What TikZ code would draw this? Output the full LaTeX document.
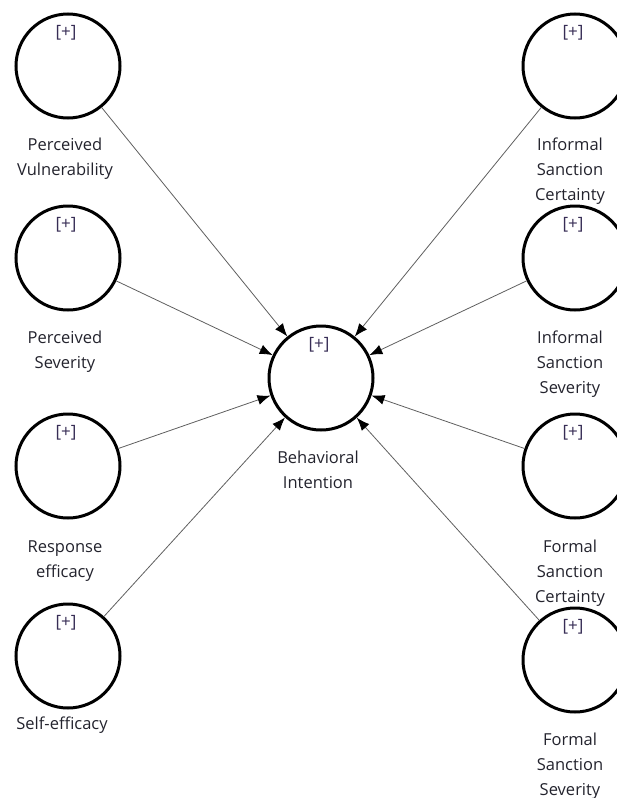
\documentclass[tikz,border=0pt]{standalone}
\usepackage{fontspec}
\setmainfont{Open Sans}
\usetikzlibrary{arrows.meta}
\definecolor{txt}{RGB}{35,35,45}
\definecolor{plusc}{RGB}{55,45,85}
\definecolor{edgec}{RGB}{95,95,95}
\begin{document}
\begin{tikzpicture}[x=1pt,y=-1pt,
  latent/.style={circle,draw=black,line width=3pt,minimum size=104pt,inner sep=0pt},
  lbl/.style={align=center,font=\fontsize{16.5}{25}\selectfont,text=txt,anchor=base,inner sep=0pt},
  plusmark/.style={font=\fontsize{17}{18}\selectfont,text=plusc,anchor=base,inner sep=0pt},
  conn/.style={draw=edgec,line width=0.8pt,-{Latex[length=13pt,width=10pt,color=black]}}]
\useasboundingbox (0,0) rectangle (617,798);
\clip (0,0) rectangle (617,798);
% latent variables
\node[latent] (pv)  at (68,66)  {};
\node[latent] (ps)  at (68,258) {};
\node[latent] (re)  at (68,466) {};
\node[latent] (se)  at (68,656) {};
\node[latent] (isc) at (575,66)  {};
\node[latent] (iss) at (575,258) {};
\node[latent] (fsc) at (575,466) {};
\node[latent] (fss) at (575,660) {};
\node[latent] (bi)  at (321,378) {};
% [+] marks
\foreach \n in {pv,ps,re,se,isc,iss,fsc,fss,bi}{
  \node[plusmark] (\n-plus) at ([xshift=-2pt,yshift=29pt]\n.center) {[+]};
}
% labels (anchored at the baseline of the last line)
\node[lbl] (pv-l)  at (65,175)  {Perceived\\Vulnerability};
\node[lbl] (ps-l)  at (65,368)  {Perceived\\Severity};
\node[lbl] (re-l)  at (65,577)  {Response\\efficacy};
\node[lbl] (se-l)  at (62,729)  {Self-efficacy};
\node[lbl] (bi-l)  at (318,488) {Behavioral\\Intention};
\node[lbl] (isc-l) at (570,200) {Informal\\Sanction\\Certainty};
\node[lbl] (iss-l) at (570,393) {Informal\\Sanction\\Severity};
\node[lbl] (fsc-l) at (570,602) {Formal\\Sanction\\Certainty};
\node[lbl] (fss-l) at (570,795) {Formal\\Sanction\\Severity};
% paths
\foreach \n in {pv,ps,re,se,isc,iss,fsc,fss}{
  \draw[conn] (\n) -- (bi);
}
\end{tikzpicture}
\end{document}
